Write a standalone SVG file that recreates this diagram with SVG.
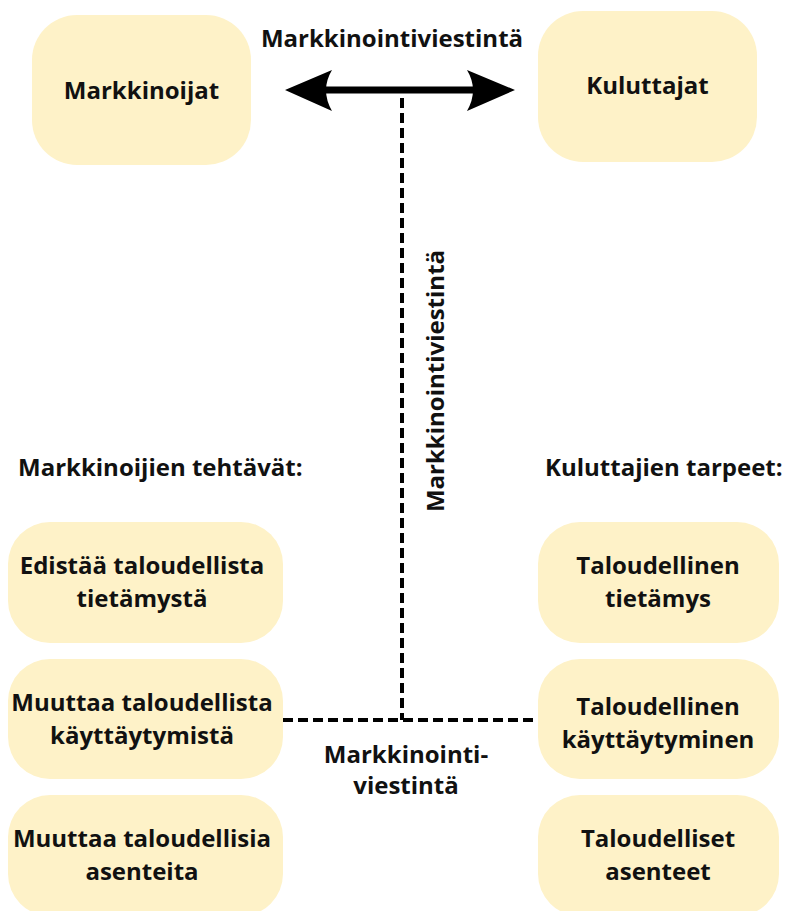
<svg xmlns="http://www.w3.org/2000/svg" width="789" height="911" viewBox="0 0 789 911">
<style>
.box{fill:#fef2c8;}
.t{font-family:"Open Sans","Liberation Sans",sans-serif;font-weight:700;font-size:24px;fill:#111;text-anchor:middle;}
.s{font-family:"Open Sans","Liberation Sans",sans-serif;font-weight:700;font-size:24px;fill:#111;text-anchor:middle;}
.h{font-family:"Open Sans","Liberation Sans",sans-serif;font-weight:700;font-size:24px;fill:#111;}
.dash{fill:none;stroke:#000;stroke-width:4;stroke-dasharray:10 5;}
</style>
<rect width="789" height="911" fill="#fff"/>
<g id="connectors">
<line x1="296" y1="90" x2="504" y2="90" stroke="#000" stroke-width="7"/>
<path d="M285,90 L332,70 Q320,90 332,111 Z" fill="#000"/>
<path d="M515,90 L467,70 Q479,90 467,111 Z" fill="#000"/>
<line class="dash" x1="402" y1="98" x2="402" y2="720"/>
<line class="dash" x1="283" y1="720" x2="538" y2="720"/>
</g>
<g id="markkinoijat">
<rect class="box" x="32" y="15" width="219" height="150" rx="45"/>
<text class="t" x="141.5" y="99">Markkinoijat</text>
</g>
<g id="kuluttajat">
<rect class="box" x="538" y="11" width="219" height="151" rx="45"/>
<text class="t" x="647.5" y="94">Kuluttajat</text>
</g>
<g id="label-top">
<text class="t" x="392" y="47">Markkinointiviestintä</text>
</g>
<g id="label-vertical">
<text class="s" transform="translate(444,381) rotate(-90)">Markkinointiviestintä</text>
</g>
<g id="label-bottom">
<text class="s" x="406" y="763">Markkinointi-</text>
<text class="s" x="406" y="794">viestintä</text>
</g>
<g id="heading-left"><text class="h" x="18" y="476">Markkinoijien tehtävät:</text></g>
<g id="heading-right"><text class="h" x="545" y="476">Kuluttajien tarpeet:</text></g>
<g id="l1">
<rect class="box" x="8" y="522" width="275" height="121" rx="42"/>
<text class="t" x="142" y="574">Edistää taloudellista</text>
<text class="t" x="142" y="607">tietämystä</text>
</g>
<g id="l2">
<rect class="box" x="8" y="659" width="275" height="120" rx="42"/>
<text class="t" x="142" y="711">Muuttaa taloudellista</text>
<text class="t" x="142" y="744">käyttäytymistä</text>
</g>
<g id="l3">
<rect class="box" x="8" y="795" width="275" height="121" rx="42"/>
<text class="t" x="142" y="847">Muuttaa taloudellisia</text>
<text class="t" x="142" y="880">asenteita</text>
</g>
<g id="r1">
<rect class="box" x="538" y="522" width="241" height="121" rx="42"/>
<text class="t" x="658" y="574">Taloudellinen</text>
<text class="t" x="658" y="607">tietämys</text>
</g>
<g id="r2">
<rect class="box" x="538" y="659" width="241" height="120" rx="42"/>
<text class="t" x="658" y="715">Taloudellinen</text>
<text class="t" x="658" y="748">käyttäytyminen</text>
</g>
<g id="r3">
<rect class="box" x="538" y="795" width="241" height="121" rx="42"/>
<text class="t" x="658" y="847">Taloudelliset</text>
<text class="t" x="658" y="880">asenteet</text>
</g>
</svg>
